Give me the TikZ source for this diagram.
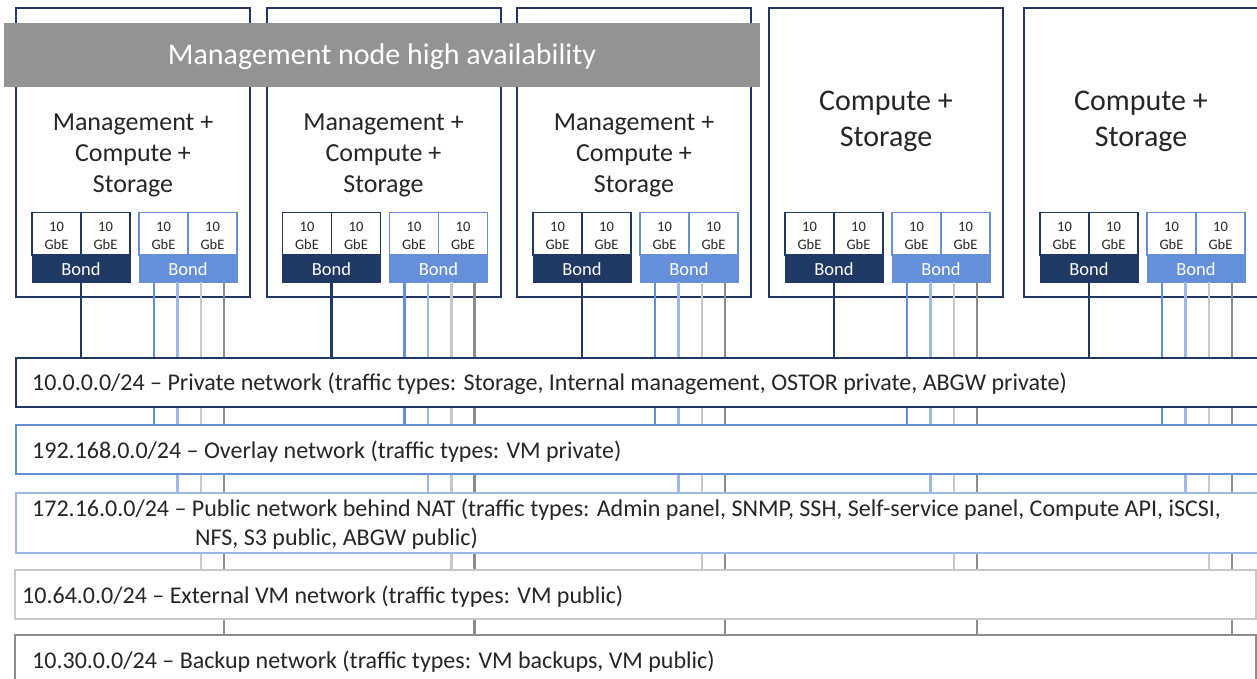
\documentclass[tikz,border=0pt]{standalone}
\usepackage{fontspec}
\setmainfont{Carlito}
\usetikzlibrary{calc}
\definecolor{navy}{HTML}{1F3864}
\definecolor{mblue}{HTML}{658FD8}
\definecolor{lblue}{HTML}{9DB9E8}
\definecolor{lgray}{HTML}{C8C8C8}
\definecolor{dgray}{HTML}{8C8C8C}
\definecolor{bannergray}{HTML}{939393}
\definecolor{txt}{HTML}{262626}
\tikzset{
  srvbox/.style={draw=navy, line width=2pt, fill=white, minimum width=234pt, minimum height=289pt, anchor=north west, inner sep=0pt, outer sep=0pt},
  cellbox/.style={draw=#1, line width=1.6pt, fill=white, minimum width=49pt, minimum height=42.5pt, anchor=north west, inner sep=0pt, outer sep=0pt},
  celltext/.style={anchor=base, inner sep=0pt, text=txt, align=center, font=\fontsize{14.5}{17.6}\selectfont},
  bondbar/.style={fill=#1, draw=#1, line width=1pt, minimum width=98pt, minimum height=27pt, anchor=north west, inner sep=0pt, outer sep=0pt},
  bondtext/.style={anchor=base, inner sep=0pt, text=white, font=\fontsize{18.5}{20}\selectfont},
  netbox/.style={draw=#1, line width=2pt, fill=white, anchor=north west, inner sep=0pt, outer sep=0pt},
  nettext/.style={anchor=base west, inner sep=0pt, text=txt, font=\fontsize{24}{28}\selectfont},
  mgmtlabel/.style={anchor=base, inner sep=0pt, text=txt, align=center, font=\fontsize{26}{31}\selectfont},
  cslabel/.style={anchor=base, inner sep=0pt, text=txt, align=center, font=\fontsize{30}{36}\selectfont},
  wire/.style={line width=#1},
}
\begin{document}
\begin{tikzpicture}[x=1pt,y=-1pt]
\useasboundingbox (0,0) rectangle (1257,679);
\clip (0,0) rectangle (1257,679);
% servers
\foreach \sx [count=\i] in {16,266.5,517,769,1024} {
  \node[srvbox] (s\i) at (\sx,8) {};
  \node[cellbox=navy] (cA\i a) at (\sx+16,212.5) {};
  \node[cellbox=navy] (cA\i b) at (\sx+65,212.5) {};
  \node[cellbox=mblue] (cB\i a) at (\sx+123,212.5) {};
  \node[cellbox=mblue] (cB\i b) at (\sx+172,212.5) {};
  \node[celltext] (tA\i a) at (\sx+40.5,249.3) {10\\GbE};
  \node[celltext] (tA\i b) at (\sx+89.5,249.3) {10\\GbE};
  \node[celltext] (tB\i a) at (\sx+147.5,249.3) {10\\GbE};
  \node[celltext] (tB\i b) at (\sx+196.5,249.3) {10\\GbE};
  \node[bondbar=navy] (bA\i) at (\sx+16,255) {};
  \node[bondbar=mblue] (bB\i) at (\sx+123,255) {};
  \node[bondtext] (bAt\i) at (\sx+65,275) {Bond};
  \node[bondtext] (bBt\i) at (\sx+172,275) {Bond};
}
\node[mgmtlabel] (l1) at (133,192.7) {Management +\\Compute +\\Storage};
\node[mgmtlabel] (l2) at (383.5,192.7) {Management +\\Compute +\\Storage};
\node[mgmtlabel] (l3) at (634,192.7) {Management +\\Compute +\\Storage};
\node[cslabel] (l4) at (886,146.7) {Compute +\\Storage};
\node[cslabel] (l5) at (1141,146.7) {Compute +\\Storage};
% banner
\node[fill=bannergray, minimum width=756pt, minimum height=64pt, anchor=north west, inner sep=0pt] (banner) at (4,23) {};
\node[anchor=base, inner sep=0pt, text=white, font=\fontsize{30}{36}\selectfont] (bannertext) at (382,65) {Management node high availability};
% network boxes (coordinates of their top edges)
\coordinate (privtop) at (0,357.7);
\coordinate (ovltop) at (0,425);
\coordinate (pubtop) at (0,493.3);
\coordinate (exttop) at (0,570);
\coordinate (baktop) at (0,635);
% wires
\foreach \i in {1,...,5} {
  \draw[navy, wire=2.6pt] (bA\i.south) -- (bA\i.south |- privtop);
  \draw[mblue, wire=2.3pt] ($(bB\i.south west)+(15,0)$) coordinate (w\i a) -- (w\i a |- ovltop);
  \draw[lblue, wire=2.3pt] ($(bB\i.south west)+(38.5,0)$) coordinate (w\i b) -- (w\i b |- pubtop);
  \draw[lgray, wire=2.3pt] ($(bB\i.south west)+(62,0)$) coordinate (w\i c) -- (w\i c |- exttop);
  \draw[dgray, wire=2.3pt] ($(bB\i.south west)+(85,0)$) coordinate (w\i d) -- (w\i d |- baktop);
}
% networks
\node[netbox=navy, minimum width=1245pt, minimum height=49pt] (priv) at (15.7,357.7) {};
\node[netbox=mblue, minimum width=1245pt, minimum height=49pt] (ovl) at (15.7,425) {};
\node[netbox=lblue, minimum width=1245pt, minimum height=60pt] (pub) at (15.7,493.3) {};
\node[netbox=lgray, minimum width=1241pt, minimum height=49pt] (ext) at (15,570) {};
\node[netbox=dgray, minimum width=1241pt, minimum height=60pt] (bak) at (15,635) {};
\node[nettext] (privt) at (32,390.7) {10.0.0.0/24 – Private network (traffic types: Storage, Internal management, OSTOR private, ABGW private)};
\node[nettext] (ovlt) at (32,458.3) {192.168.0.0/24 – Overlay network (traffic types: VM private)};
\node[nettext] (pubt1) at (32,516.7) {172.16.0.0/24 – Public network behind NAT (traffic types: Admin panel, SNMP, SSH, Self-service panel, Compute API, iSCSI,};
\node[nettext] (pubt2) at (195,545.5) {NFS, S3 public, ABGW public)};
\node[nettext] (extt) at (22,603.3) {10.64.0.0/24 – External VM network (traffic types: VM public)};
\node[nettext] (bakt) at (32,668.7) {10.30.0.0/24 – Backup network (traffic types: VM backups, VM public)};
\end{tikzpicture}
\end{document}
